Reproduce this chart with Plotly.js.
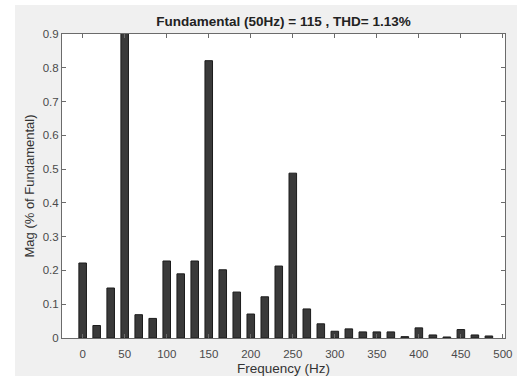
<!DOCTYPE html>
<html>
<head>
<meta charset="utf-8">
<script src="https://cdn.plot.ly/plotly-3.0.1.min.js"></script>
<style>
html,body{margin:0;padding:0;background:#ffffff;width:531px;height:378px;overflow:hidden;}
#chart{position:absolute;left:15px;top:5px;width:502px;height:371px;}
</style>
</head>
<body>
<div id="chart"></div>
<script>
const frequencies = [0, 16.67, 33.33, 50, 66.67, 83.33, 100, 116.67, 133.33, 150, 166.67, 183.33, 200, 216.67, 233.33, 250, 266.67, 283.33, 300, 316.67, 333.33, 350, 366.67, 383.33, 400, 416.67, 433.33, 450, 466.67, 483.33];
const magnitudes = [0.222, 0.037, 0.148, 100, 0.069, 0.058, 0.228, 0.190, 0.228, 0.821, 0.202, 0.136, 0.071, 0.122, 0.213, 0.488, 0.086, 0.042, 0.020, 0.027, 0.018, 0.018, 0.018, 0.004, 0.030, 0.009, 0.003, 0.025, 0.009, 0.006];
const xTicks = [0, 50, 100, 150, 200, 250, 300, 350, 400, 450, 500];
const yTicks = [0, 0.1, 0.2, 0.3, 0.4, 0.5, 0.6, 0.7, 0.8, 0.9];
const titleText = "Fundamental (50Hz) = 115 , THD= 1.13%";

const trace = {
  type: 'bar',
  x: frequencies,
  y: magnitudes,
  width: 9,
  marker: {color: '#3a3a3a', line: {color: '#1c1c1c', width: 1}},
  hoverinfo: 'x+y'
};

const axisCommon = {
  showgrid: false,
  zeroline: false,
  showline: true,
  linecolor: '#6b6b6b',
  linewidth: 1,
  mirror: 'ticks',
  ticks: 'inside',
  ticklen: 4,
  tickcolor: '#6b6b6b',
  tickfont: {family: 'Liberation Sans, Arial, sans-serif', size: 11.5, color: '#4a4a4a'}
};

const layout = {
  width: 502,
  height: 371,
  paper_bgcolor: '#f0f0f0',
  plot_bgcolor: '#ffffff',
  margin: {l: 47, r: 12, t: 28.5, b: 37.5},
  showlegend: false,
  bargap: 0,
  title: {
    text: '<b>' + titleText + '</b>',
    font: {family: 'Liberation Sans, Arial, sans-serif', size: 13.5, color: '#222222'},
    x: 0.5, xref: 'paper', xanchor: 'center',
    y: 0.955, yref: 'container', yanchor: 'middle'
  },
  xaxis: Object.assign({}, axisCommon, {
    range: [-24.6, 502.5],
    tickmode: 'array',
    tickvals: xTicks,
    ticktext: xTicks.map(String),
    ticklabelstandoff: 5,
    title: {text: 'Frequency (Hz)', standoff: 6,
      font: {family: 'Liberation Sans, Arial, sans-serif', size: 13.5, color: '#333333'}}
  }),
  yaxis: Object.assign({}, axisCommon, {
    range: [0, 0.9],
    tickmode: 'array',
    tickvals: yTicks,
    ticktext: yTicks.map(v => v === 0 ? '0' : v.toFixed(1)),
    title: {text: 'Mag (% of Fundamental)', standoff: 5,
      font: {family: 'Liberation Sans, Arial, sans-serif', size: 13, color: '#333333'}}
  })
};

Plotly.newPlot('chart', [trace], layout, {displayModeBar: false, staticPlot: true});
</script>
</body>
</html>
